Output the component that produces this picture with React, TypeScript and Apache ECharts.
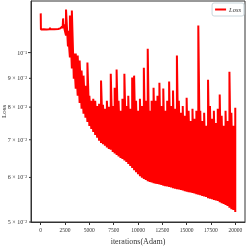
import { useEffect, useRef } from "react";
import * as echarts from "echarts";

const plateauIters = [0, 20, 300, 600, 900, 950, 1000, 1400, 1800, 2000, 2100, 2200, 2250, 2300, 2350, 2400, 2450, 2500];
const plateauLoss = [0.1174, 0.1099, 0.11, 0.1099, 0.11, 0.1106, 0.11, 0.11, 0.1101, 0.1104, 0.1108, 0.1112, 0.1105, 0.115, 0.111, 0.1122, 0.11, 0.109];

const bandIters = [
  2600, 2800, 3000, 3200, 3400, 3600, 3800, 4000, 4200, 4400, 4600, 4800, 5000, 5200, 5400, 5600, 5800, 6000,
  6200, 6400, 6600, 6800, 7000, 7200, 7400, 7600, 7800, 8000, 8200, 8400, 8600, 8800, 9000, 9200, 9400, 9600,
  9800, 10000, 10200, 10400, 10600, 10800, 11000, 11200, 11400, 11600, 11800, 12000, 12200, 12400, 12600, 12800,
  13000, 13200, 13400, 13600, 13800, 14000, 14200, 14400, 14600, 14800, 15000, 15200, 15400, 15600, 15800, 16000,
  16200, 16400, 16600, 16800, 17000, 17200, 17400, 17600, 17800, 18000, 18200, 18400, 18600, 18800, 19000, 19200,
  19400, 19600, 19800, 20000,
];
const bandLow = [
  0.1072, 0.1025, 0.098, 0.0937, 0.0899, 0.0863, 0.0838, 0.0814, 0.0795, 0.0779, 0.0766, 0.0753, 0.0741, 0.0732,
  0.0723, 0.0714, 0.0706, 0.0697, 0.0691, 0.0687, 0.0683, 0.0678, 0.0674, 0.0672, 0.0666, 0.0662, 0.0658, 0.0654,
  0.065, 0.0647, 0.0643, 0.0639, 0.0634, 0.0629, 0.0624, 0.0618, 0.0613, 0.0608, 0.0603, 0.0599, 0.0596, 0.0594,
  0.0591, 0.0589, 0.0588, 0.0586, 0.0585, 0.0584, 0.0583, 0.0582, 0.058, 0.0579, 0.0578, 0.0577, 0.0576, 0.0574,
  0.0573, 0.0572, 0.0571, 0.057, 0.0569, 0.0567, 0.0566, 0.0565, 0.0564, 0.0563, 0.0562, 0.056, 0.0559, 0.0558,
  0.0556, 0.0555, 0.0554, 0.0551, 0.055, 0.0549, 0.0547, 0.0546, 0.0545, 0.0542, 0.054, 0.0538, 0.0536, 0.0534,
  0.053, 0.0527, 0.0525, 0.0521,
];
const bandHigh = [
  0.1193, 0.1094, 0.1164, 0.1188, 0.0996, 0.0996, 0.0988, 0.0968, 0.0929, 0.091, 0.0873, 0.096, 0.0838, 0.0821,
  0.0828, 0.0821, 0.0804, 0.0811, 0.0892, 0.0808, 0.0795, 0.0821, 0.0801, 0.0917, 0.0804, 0.0866, 0.0933, 0.0821,
  0.0788, 0.0828, 0.0917, 0.0804, 0.0838, 0.0795, 0.0903, 0.091, 0.0821, 0.0788, 0.0828, 0.0804, 0.094, 0.0821,
  0.1016, 0.0788, 0.0821, 0.0866, 0.0821, 0.0838, 0.0884, 0.0804, 0.0863, 0.0788, 0.0821, 0.0888, 0.0804, 0.0856,
  0.0795, 0.0988, 0.0821, 0.0782, 0.0804, 0.0772, 0.0831, 0.0788, 0.0756, 0.0795, 0.0763, 0.0788, 0.1117, 0.0788,
  0.0756, 0.0782, 0.0741, 0.0895, 0.0804, 0.0763, 0.0788, 0.075, 0.0795, 0.0842, 0.0772, 0.0741, 0.0788, 0.0756,
  0.0925, 0.0782, 0.0741, 0.0798,
];

const xTicks = [0, 2500, 5000, 7500, 10000, 12500, 15000, 17500, 20000];
const yTicks = [0.05, 0.06, 0.07, 0.08, 0.09, 0.1];
const yTickLabels = ["5 × 10⁻²", "6 × 10⁻²", "7 × 10⁻²", "8 × 10⁻²", "9 × 10⁻²", "10⁻¹"];

const FONT = "Liberation Serif";

export default function App() {
  const ref = useRef<HTMLDivElement>(null);
  useEffect(() => {
    const chart = echarts.init(ref.current!, null, { renderer: "svg" });
    const data: number[][] = [];
    plateauIters.forEach((it, i) => data.push([it, plateauLoss[i]]));
    bandIters.forEach((it, i) => {
      data.push([it, bandLow[i]]);
      data.push([it, bandHigh[i]]);
    });
    chart.setOption({
      animation: false,
      grid: {
        left: 31,
        right: 1,
        top: 1,
        bottom: 24,
        show: true,
        borderColor: "#333",
        borderWidth: 1,
        containLabel: false,
        outerBoundsMode: "none",
      },
      legend: {
        data: ["Loss"],
        right: 2,
        top: 3,
        padding: [3, 3, 3, 3],
        itemWidth: 11,
        itemHeight: 2,
        icon: "rect",
        borderColor: "#c9d6dc",
        borderWidth: 1,
        borderRadius: 2,
        textStyle: { fontFamily: FONT, fontStyle: "italic", fontSize: 6.5, color: "#333", padding: [0, 0, 0, -2] },
      },
      xAxis: {
        type: "value",
        min: -1000,
        max: 21000,
        name: "iterations(Adam)",
        nameLocation: "middle",
        nameGap: 15,
        nameTextStyle: { fontFamily: FONT, fontSize: 8, color: "#333" },
        axisLine: { onZero: false, lineStyle: { color: "#333", width: 1 } },
        axisTick: { customValues: xTicks, length: 3, lineStyle: { color: "#333" } },
        axisLabel: {
          customValues: xTicks,
          formatter: (v: number) => String(v),
          fontFamily: FONT,
          fontSize: 5.5,
          color: "#333",
          margin: 5,
        },
        splitLine: { show: false },
      },
      yAxis: {
        type: "log",
        logBase: 10,
        min: 0.05,
        max: 0.1235,
        name: "Loss",
        nameLocation: "middle",
        nameGap: 24,
        nameTextStyle: { fontFamily: FONT, fontSize: 7, color: "#333" },
        axisLine: { show: true, onZero: false, lineStyle: { color: "#333", width: 1 } },
        axisTick: { show: false },
        axisLabel: { show: false },
        splitLine: { show: false },
        minorTick: { show: false },
      },
      series: [
        {
          name: "Loss",
          type: "line",
          data,
          showSymbol: false,
          symbol: "none",
          color: "#ff0000",
          lineStyle: { color: "#ff0000", width: 2, join: "bevel" },
        },
      ],
    });
    const axisX = chart.convertToPixel({ xAxisIndex: 0 }, -1000) as number;
    const graphics: any[] = [];
    yTicks.forEach((v, i) => {
      const py = chart.convertToPixel({ yAxisIndex: 0 }, v) as number;
      graphics.push({
        type: "line",
        shape: { x1: axisX - (v === 0.1 ? 3 : 2), y1: py, x2: axisX, y2: py },
        style: { stroke: "#333", lineWidth: 1 },
      });
      graphics.push({
        type: "text",
        x: axisX - 4,
        y: py,
        style: {
          text: yTickLabels[i],
          align: "right",
          verticalAlign: "middle",
          fontFamily: FONT,
          fontSize: 6,
          fill: "#333",
        },
      });
    });
    chart.setOption({ graphic: graphics });
    return () => chart.dispose();
  }, []);
  return <div ref={ref} style={{ position: "fixed", left: 0, top: 0, width: 246, height: 246 }} />;
}
